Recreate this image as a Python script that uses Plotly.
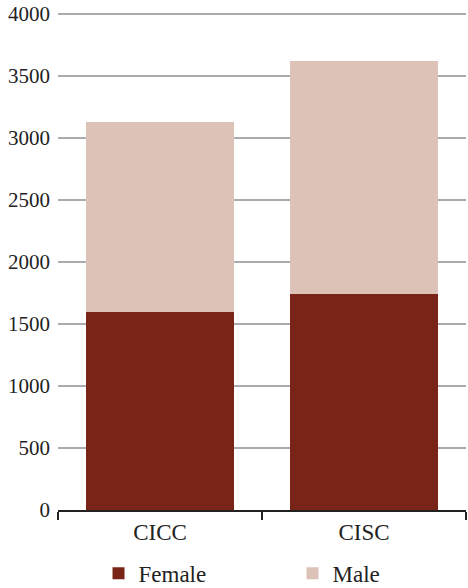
import plotly.graph_objects as go

categories = ["CICC", "CISC"]
female = [1595, 1740]
male = [1530, 1880]
y_ticks = [0, 500, 1000, 1500, 2000, 2500, 3000, 3500, 4000]

font_family = "Liberation Serif, Times New Roman, serif"

fig = go.Figure()
fig.add_trace(go.Bar(x=categories, y=female, name="Female", marker_color="#7a2418",
                     marker_line_width=0, legend="legend"))
fig.add_trace(go.Bar(x=categories, y=male, name="Male", marker_color="#dcc2b7",
                     marker_line_width=0, legend="legend2"))

leg_common = dict(orientation="h", xanchor="left", xref="paper",
                  y=-0.127, yanchor="middle", bgcolor="rgba(0,0,0,0)",
                  font=dict(size=23, family=font_family, color="#222"))

fig.update_layout(
    barmode="stack",
    bargap=0.275,
    width=468, height=588,
    margin=dict(l=58, r=2, t=12, b=78, autoexpand=False),
    plot_bgcolor="white", paper_bgcolor="white",
    font=dict(family=font_family, size=20, color="#222"),
    showlegend=True,
    legend=dict(x=0.0993, **leg_common),
    legend2=dict(x=0.5748, **leg_common),
    yaxis=dict(range=[0, 4016], tickvals=y_ticks, showgrid=True, automargin=False,
               gridcolor="#aaaaaf", gridwidth=2, zeroline=False, showline=False,
               ticks="", ticklabelstandoff=7, ticklabeloverflow="allow",
               tickfont=dict(size=21, family=font_family, color="#222")),
    xaxis=dict(showline=True, linecolor="#222", linewidth=2, ticks="outside",
               automargin=False,
               tickson="boundaries", ticklen=8, tickwidth=2, tickcolor="#222",
               tickfont=dict(size=23, family=font_family, color="#222")),
)

fig.write_html("out.html",
               config={"displayModeBar": False},
               post_script="document.body.style.margin='0';document.body.style.overflow='hidden';")
